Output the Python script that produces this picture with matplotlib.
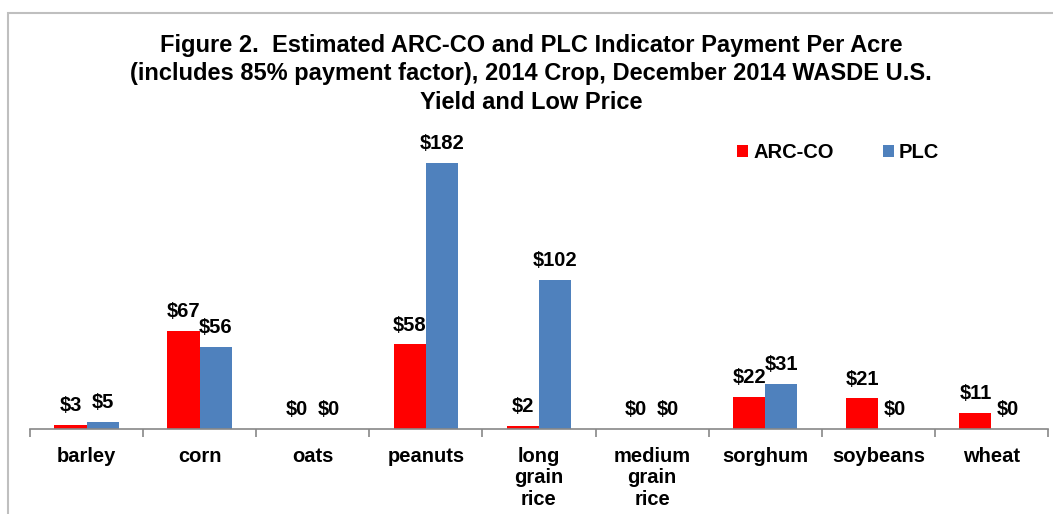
import matplotlib
matplotlib.use("Agg")
import matplotlib.pyplot as plt
from matplotlib.patches import Rectangle
import numpy as np

plt.rcParams['font.family'] = ['Liberation Sans', 'DejaVu Sans']

categories = ["barley", "corn", "oats", "peanuts", "long\ngrain\nrice",
              "medium\ngrain\nrice", "sorghum", "soybeans", "wheat"]
arc_co = [3, 67, 0, 58, 2, 0, 22, 21, 11]
plc = [5, 56, 0, 182, 102, 0, 31, 0, 0]
series_names = ["ARC-CO", "PLC"]
colors = ["#FF0000", "#4F81BD"]
title = ("Figure 2.  Estimated ARC-CO and PLC Indicator Payment Per Acre\n"
         "(includes 85% payment factor), 2014 Crop, December 2014 WASDE U.S.\n"
         "Yield and Low Price")

W, H = 1053, 514
fig = plt.figure(figsize=(W / 100, H / 100), dpi=100)

# outer frame
fig.patches.append(Rectangle((8 / W, -0.05), 1.1, (H - 13) / H + 0.05,
                             transform=fig.transFigure, fill=False,
                             edgecolor="#BFBFBF", linewidth=1.5))

ax = fig.add_axes([30 / W, 1 - 429 / H, 1018 / W, 292.3 / H])
x = np.arange(len(categories))
bw = 0.285
FS = 14.5
for vals, name, col, off in [(arc_co, series_names[0], colors[0], -bw / 2),
                             (plc, series_names[1], colors[1], bw / 2)]:
    ax.bar(x + off, vals, width=bw, color=col, label=name)
    for xi, v in zip(x + off, vals):
        ax.annotate(f"${v}", (xi, v), xytext=(0, 7), textcoords="offset points",
                    ha="center", va="bottom", fontsize=FS, fontweight="bold")

ax.set_xlim(-0.5, len(categories) - 0.5)
ax.set_ylim(0, 200)
ax.set_yticks([])
for s in ["top", "right", "left"]:
    ax.spines[s].set_visible(False)
ax.spines["bottom"].set_color("#888888")
ax.spines["bottom"].set_linewidth(1.2)
ax.set_xticks(x)
ax.set_xticklabels(categories, fontsize=FS, fontweight="bold", linespacing=1.15)
ax.tick_params(axis="x", which="major", length=0, pad=13)
ax.set_xticks(np.arange(len(categories) + 1) - 0.5, minor=True)
ax.tick_params(axis="x", which="minor", length=6, color="#888888", width=1.2)
ax.patch.set_visible(False)

fig.text(531 / W, 1 - 34 / H, title, ha="center", va="top", fontsize=17,
         fontweight="bold", linespacing=1.3)

leg = ax.legend(loc="upper left",
                bbox_to_anchor=((737 - 30) / 1018, (429 - 143) / 292.3),
                ncol=2, frameon=False, prop={"weight": "bold", "size": FS},
                borderpad=0, borderaxespad=0,
                handlelength=0.55, handleheight=0.55, columnspacing=2.45,
                handletextpad=0.25)

fig.savefig("out.png", dpi=100)
